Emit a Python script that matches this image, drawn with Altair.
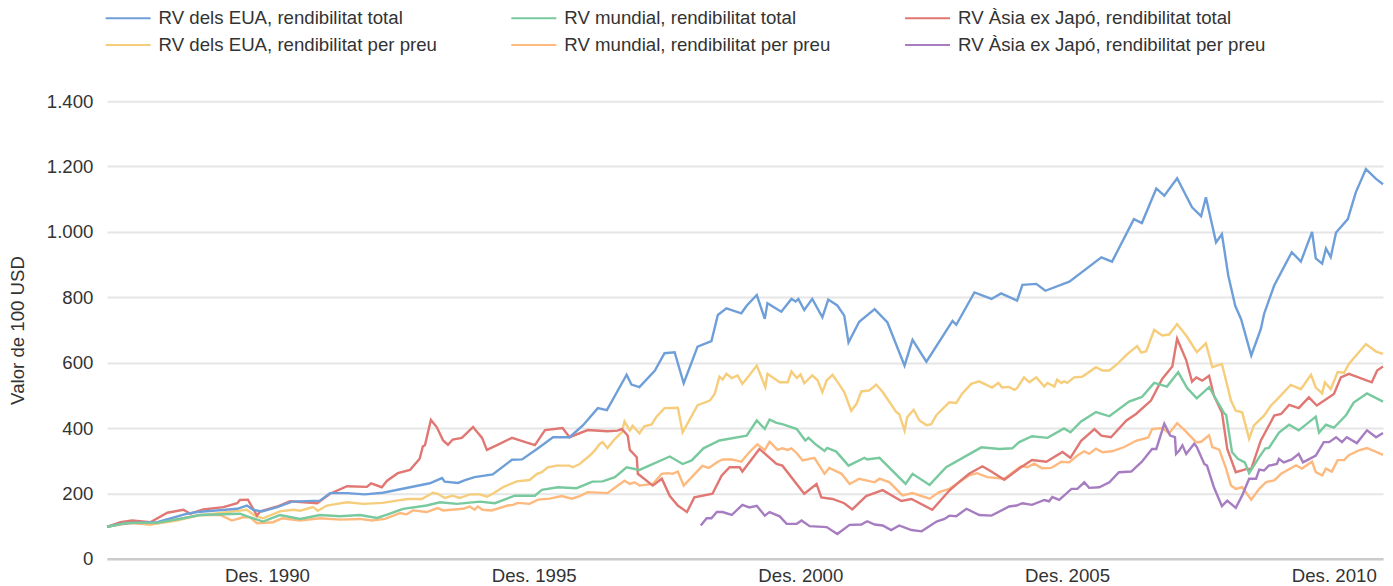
import altair as alt
import pandas as pd

# ---- series names ----
US_TOT = "RV dels EUA, rendibilitat total"
WLD_TOT = "RV mundial, rendibilitat total"
ASIA_TOT = "RV Àsia ex Japó, rendibilitat total"
US_PR = "RV dels EUA, rendibilitat per preu"
WLD_PR = "RV mundial, rendibilitat per preu"
ASIA_PR = "RV Àsia ex Japó, rendibilitat per preu"

ORDER = [US_TOT, WLD_TOT, ASIA_TOT, US_PR, WLD_PR, ASIA_PR]
COLORS = ["#6f9fd8", "#78c99e", "#e07772", "#f6cd7b", "#fdb97e", "#a77dc2"]

# ---- data (decimal year, value of 100 USD) ----
us_tot_t = [1987.92, 1988.17, 1988.41, 1988.86, 1989.42, 1989.61, 1990.36, 1990.54, 1990.66, 1990.82,
            1991.11, 1991.39, 1991.91, 1992.10, 1992.42, 1992.75, 1993.09, 1993.60, 1993.97, 1994.20,
            1994.25, 1994.50, 1994.63, 1994.81, 1995.15, 1995.51, 1995.70, 1995.98, 1996.28, 1996.59,
            1996.84, 1997.12, 1997.29, 1997.66, 1997.75, 1997.90, 1998.19, 1998.37, 1998.56, 1998.73,
            1998.99, 1999.25, 1999.37, 1999.53, 1999.81, 1999.91, 2000.10, 2000.25, 2000.30, 2000.56,
            2000.75, 2000.83, 2000.88, 2000.99, 2001.14, 2001.33, 2001.44, 2001.61, 2001.74, 2001.82,
            2002.02, 2002.31, 2002.55, 2002.87, 2003.02, 2003.28, 2003.77, 2003.84, 2004.18, 2004.50,
            2004.68, 2004.98, 2005.08, 2005.34, 2005.51, 2005.96, 2006.56, 2006.76, 2007.17, 2007.32,
            2007.59, 2007.74, 2007.98, 2008.26, 2008.43, 2008.52, 2008.71, 2008.82, 2008.94, 2009.07,
            2009.18, 2009.37, 2009.55, 2009.61, 2009.80, 2010.13, 2010.30, 2010.51, 2010.58, 2010.70,
            2010.77, 2010.86, 2010.96, 2011.18, 2011.33, 2011.52, 2011.71, 2011.84]
us_tot_v = [98, 107, 110, 112, 138, 143, 153, 163, 150, 145,
            158, 175, 178, 201, 201, 197, 202, 219, 231, 247,
            236, 232, 241, 250, 258, 303, 304, 336, 372, 372,
            408, 461, 455, 563, 533, 525, 576, 629, 632, 537,
            649, 666, 746, 766, 751, 774, 807, 734, 782, 756,
            795, 787, 795, 761, 795, 739, 793, 775, 744, 662,
            725, 764, 723, 591, 670, 603, 728, 716, 815, 795,
            812, 790, 838, 841, 820, 848, 922, 909, 1039, 1027,
            1133, 1111, 1164, 1075, 1048, 1106, 968, 993, 866, 774,
            733, 622, 703, 749, 836, 938, 909, 1000, 919, 903,
            949, 923, 998, 1039, 1121, 1192, 1162, 1146]

us_pr_t = [1987.92, 1988.17, 1988.41, 1988.73, 1989.23, 1989.61, 1990.28, 1990.54, 1990.69, 1990.84,
           1991.16, 1991.41, 1991.54, 1991.78, 1991.87, 1992.04, 1992.23, 1992.42, 1992.72, 1993.09,
           1993.35, 1993.56, 1993.82, 1994.03, 1994.12, 1994.25, 1994.40, 1994.53, 1994.72, 1994.91,
           1995.04, 1995.15, 1995.34, 1995.60, 1995.84, 1995.98, 1996.07, 1996.18, 1996.35, 1996.59,
           1996.65, 1996.78, 1996.97, 1997.06, 1997.16, 1997.21, 1997.30, 1997.44, 1997.57, 1997.62,
           1997.72, 1997.77, 1997.90, 1997.99, 1998.13, 1998.22, 1998.37, 1998.62, 1998.71, 1998.99,
           1999.22, 1999.31, 1999.40, 1999.46, 1999.53, 1999.63, 1999.74, 1999.83, 1999.93, 2000.10,
           2000.26, 2000.30, 2000.53, 2000.68, 2000.75, 2000.85, 2000.92, 2000.99, 2001.14, 2001.24,
           2001.33, 2001.41, 2001.52, 2001.61, 2001.74, 2001.87, 2001.97, 2002.06, 2002.21, 2002.34,
           2002.46, 2002.72, 2002.77, 2002.87, 2002.92, 2003.04, 2003.15, 2003.28, 2003.37, 2003.47,
           2003.71, 2003.84, 2003.95, 2004.12, 2004.27, 2004.51, 2004.63, 2004.70, 2004.83, 2004.93,
           2004.98, 2005.11, 2005.21, 2005.34, 2005.49, 2005.55, 2005.68, 2005.73, 2005.81, 2005.86,
           2005.92, 2006.05, 2006.20, 2006.46, 2006.58, 2006.71, 2006.86, 2007.03, 2007.23, 2007.31,
           2007.40, 2007.55, 2007.70, 2007.83, 2007.98, 2008.15, 2008.35, 2008.52, 2008.64, 2008.82,
           2008.99, 2009.08, 2009.20, 2009.33, 2009.42, 2009.61, 2009.74, 2009.85, 2010.11, 2010.30,
           2010.49, 2010.58, 2010.70, 2010.75, 2010.86, 2010.99, 2011.11, 2011.20, 2011.52, 2011.71,
           2011.84]
us_pr_v = [98, 105, 110, 105, 117, 132, 145, 150, 132, 124,
           145, 150, 147, 158, 147, 163, 168, 173, 168, 171,
           178, 183, 183, 202, 199, 186, 193, 186, 197, 197,
           190, 199, 219, 237, 241, 260, 265, 280, 285, 285,
           280, 290, 316, 331, 352, 357, 339, 367, 387, 420,
           392, 407, 384, 405, 411, 435, 461, 462, 387, 470,
           484, 504, 557, 548, 566, 553, 561, 535, 555, 591,
           525, 566, 540, 540, 573, 553, 564, 537, 561, 546,
           510, 546, 563, 542, 510, 453, 474, 512, 515, 533,
           510, 448, 443, 392, 433, 456, 423, 409, 412, 440,
           479, 477, 505, 535, 543, 524, 538, 524, 526, 517,
           522, 555, 540, 555, 527, 538, 527, 548, 538, 543,
           538, 555, 557, 586, 576, 576, 596, 624, 651, 631,
           635, 700, 683, 686, 718, 683, 632, 659, 586, 596,
           484, 453, 448, 367, 408, 438, 469, 487, 532, 519,
           563, 524, 506, 540, 519, 571, 569, 596, 657, 634,
           627]

asia_tot_t = [1987.92, 1988.17, 1988.39, 1988.73, 1989.05, 1989.35, 1989.48, 1989.72, 1990.10, 1990.36,
              1990.41, 1990.56, 1990.73, 1990.79, 1991.11, 1991.35, 1991.86, 1992.10, 1992.42, 1992.79,
              1992.87, 1993.07, 1993.17, 1993.37, 1993.60, 1993.78, 1993.84, 1993.88, 1993.99, 1994.10,
              1994.22, 1994.31, 1994.40, 1994.57, 1994.78, 1994.95, 1995.04, 1995.23, 1995.51, 1995.94,
              1996.13, 1996.46, 1996.59, 1996.93, 1997.30, 1997.49, 1997.57, 1997.68, 1997.72, 1997.85,
              1997.87, 1998.15, 1998.32, 1998.47, 1998.62, 1998.79, 1998.93, 1999.27, 1999.44, 1999.59,
              1999.78, 1999.83, 2000.15, 2000.47, 2000.58, 2000.99, 2001.22, 2001.31, 2001.52, 2001.74,
              2001.89, 2002.15, 2002.46, 2002.81, 2003.00, 2003.39, 2003.71, 2003.90, 2004.08, 2004.33,
              2004.52, 2004.74, 2005.02, 2005.26, 2005.53, 2005.83, 2005.98, 2006.18, 2006.43, 2006.56,
              2006.74, 2007.03, 2007.21, 2007.49, 2007.70, 2007.89, 2007.98, 2008.15, 2008.26, 2008.34,
              2008.45, 2008.58, 2008.67, 2008.82, 2008.92, 2009.08, 2009.29, 2009.37, 2009.55, 2009.80,
              2009.93, 2010.08, 2010.26, 2010.45, 2010.60, 2010.92, 2011.05, 2011.20, 2011.63, 2011.73,
              2011.84]
asia_tot_v = [98, 112, 117, 112, 141, 150, 138, 151, 158, 170,
              180, 181, 132, 145, 160, 176, 170, 199, 222, 220,
              231, 219, 239, 262, 272, 306, 344, 348, 425, 403,
              362, 349, 365, 370, 403, 370, 333, 348, 370, 348,
              394, 400, 372, 394, 390, 392, 397, 377, 333, 311,
              260, 224, 245, 192, 163, 143, 188, 199, 254, 280,
              280, 267, 336, 290, 285, 199, 229, 188, 183, 170,
              151, 192, 210, 177, 183, 150, 209, 236, 260, 283,
              265, 242, 276, 302, 297, 327, 309, 361, 397, 377,
              372, 423, 443, 484, 550, 588, 673, 608, 542, 555,
              545, 560, 499, 448, 336, 265, 275, 275, 362, 438,
              443, 471, 461, 494, 469, 504, 555, 566, 540, 576,
              588]

wld_tot_t = [1987.92, 1988.30, 1988.86, 1989.35, 1989.66, 1990.41, 1990.60, 1990.84, 1991.16, 1991.54,
             1991.91, 1992.29, 1992.66, 1992.98, 1993.17, 1993.47, 1993.91, 1994.16, 1994.48, 1994.91,
             1995.19, 1995.56, 1995.94, 1996.07, 1996.37, 1996.72, 1997.02, 1997.21, 1997.44, 1997.66,
             1997.90, 1998.47, 1998.71, 1998.88, 1999.10, 1999.40, 1999.91, 2000.10, 2000.25, 2000.34,
             2000.47, 2000.58, 2000.85, 2001.01, 2001.07, 2001.22, 2001.37, 2001.42, 2001.59, 2001.82,
             2002.12, 2002.17, 2002.40, 2002.89, 2003.02, 2003.34, 2003.65, 2004.31, 2004.65, 2004.89,
             2005.02, 2005.26, 2005.55, 2005.86, 2005.98, 2006.18, 2006.46, 2006.71, 2007.08, 2007.32,
             2007.55, 2007.79, 2008.00, 2008.17, 2008.35, 2008.58, 2008.86, 2008.90, 2009.01, 2009.12,
             2009.25, 2009.33, 2009.52, 2009.63, 2009.70, 2009.89, 2010.08, 2010.26, 2010.58, 2010.64,
             2010.77, 2010.92, 2011.15, 2011.29, 2011.54, 2011.84]
wld_tot_v = [98, 110, 110, 124, 134, 138, 127, 114, 134, 122,
             134, 130, 134, 125, 135, 153, 163, 173, 168, 175,
             170, 193, 193, 211, 219, 216, 236, 237, 250, 280,
             272, 313, 290, 301, 338, 362, 377, 423, 397, 426,
             416, 412, 397, 362, 370, 348, 330, 339, 328, 285,
             309, 304, 309, 229, 260, 226, 280, 341, 336, 338,
             357, 375, 370, 399, 387, 420, 449, 436, 481, 495,
             538, 527, 571, 522, 491, 525, 446, 440, 326, 306,
             295, 262, 311, 337, 339, 386, 410, 393, 435, 386,
             410, 401, 440, 478, 506, 481]

wld_pr_t = [1987.92, 1988.30, 1988.73, 1989.35, 1989.66, 1990.04, 1990.26, 1990.47, 1990.60, 1990.73,
            1991.03, 1991.20, 1991.54, 1991.91, 1992.29, 1992.66, 1992.89, 1993.13, 1993.41, 1993.54,
            1993.65, 1993.91, 1994.12, 1994.22, 1994.59, 1994.72, 1994.81, 1994.87, 1994.96, 1995.13,
            1995.43, 1995.53, 1995.62, 1995.84, 1996.00, 1996.22, 1996.44, 1996.63, 1996.78, 1996.93,
            1997.30, 1997.62, 1997.72, 1997.81, 1997.90, 1998.15, 1998.32, 1998.43, 1998.52, 1998.62,
            1998.73, 1999.08, 1999.20, 1999.37, 1999.46, 1999.63, 1999.81, 1999.96, 2000.11, 2000.25,
            2000.34, 2000.49, 2000.58, 2000.68, 2000.75, 2000.85, 2000.96, 2001.18, 2001.37, 2001.46,
            2001.69, 2001.84, 2002.02, 2002.31, 2002.40, 2002.59, 2002.83, 2003.02, 2003.34, 2003.52,
            2003.71, 2003.90, 2004.08, 2004.23, 2004.42, 2004.74, 2005.06, 2005.17, 2005.30, 2005.45,
            2005.62, 2005.81, 2005.96, 2006.11, 2006.24, 2006.33, 2006.46, 2006.58, 2006.76, 2006.99,
            2007.21, 2007.44, 2007.51, 2007.70, 2007.83, 2007.98, 2008.11, 2008.34, 2008.43, 2008.58,
            2008.64, 2008.77, 2008.90, 2008.99, 2009.08, 2009.20, 2009.37, 2009.52, 2009.65, 2009.80,
            2009.93, 2010.21, 2010.32, 2010.51, 2010.58, 2010.70, 2010.77, 2010.88, 2010.99, 2011.11,
            2011.20, 2011.39, 2011.54, 2011.84]
wld_pr_v = [98, 110, 105, 124, 134, 134, 117, 127, 127, 109,
            112, 124, 117, 124, 120, 122, 117, 122, 140, 136,
            148, 143, 155, 148, 153, 160, 150, 160, 150, 148,
            163, 165, 171, 168, 181, 184, 192, 184, 192, 204,
            201, 239, 229, 234, 224, 229, 260, 262, 260, 267,
            224, 284, 278, 297, 304, 304, 297, 326, 350, 333,
            358, 333, 338, 333, 338, 323, 301, 309, 260, 278,
            260, 229, 245, 234, 245, 234, 194, 201, 184, 204,
            214, 235, 255, 262, 250, 245, 284, 280, 291, 277,
            278, 297, 295, 316, 329, 321, 337, 326, 329, 342,
            361, 371, 397, 400, 384, 415, 395, 356, 358, 378,
            342, 334, 275, 224, 214, 219, 181, 214, 235, 240,
            260, 286, 276, 297, 265, 255, 276, 267, 302, 302,
            317, 332, 339, 318]

asia_pr_t = [1999.05, 1999.16, 1999.25, 1999.35, 1999.46, 1999.63, 1999.83, 1999.96, 2000.10, 2000.25,
             2000.34, 2000.53, 2000.66, 2000.85, 2000.94, 2001.09, 2001.41, 2001.61, 2001.84, 2002.06,
             2002.17, 2002.31, 2002.46, 2002.62, 2002.77, 2003.00, 2003.19, 2003.47, 2003.62, 2003.71,
             2003.84, 2004.03, 2004.27, 2004.50, 2004.83, 2004.97, 2005.08, 2005.26, 2005.49, 2005.58,
             2005.64, 2005.77, 2006.00, 2006.11, 2006.24, 2006.33, 2006.52, 2006.71, 2006.89, 2007.12,
             2007.32, 2007.51, 2007.59, 2007.74, 2007.85, 2007.94, 2007.96, 2008.02, 2008.08, 2008.15,
             2008.30, 2008.35, 2008.49, 2008.54, 2008.67, 2008.82, 2008.92, 2009.08, 2009.20, 2009.33,
             2009.46, 2009.52, 2009.61, 2009.70, 2009.85, 2009.89, 2009.98, 2010.13, 2010.26, 2010.34,
             2010.58, 2010.73, 2010.83, 2010.96, 2011.07, 2011.16, 2011.35, 2011.54, 2011.71, 2011.84]
asia_pr_v = [102, 124, 124, 143, 143, 134, 165, 157, 162, 132,
             143, 130, 107, 107, 117, 100, 97, 76, 104, 105,
             115, 105, 102, 88, 102, 88, 84, 114, 122, 132,
             130, 153, 134, 132, 160, 163, 170, 165, 180, 176,
             189, 180, 214, 214, 234, 217, 219, 234, 265, 267,
             297, 336, 336, 413, 377, 372, 321, 331, 347, 321,
             352, 342, 290, 285, 219, 161, 178, 156, 194, 245,
             245, 273, 270, 285, 290, 306, 295, 304, 321, 295,
             316, 357, 357, 372, 357, 372, 354, 393, 372, 385]

# draw order (later = on top)
SERIES = [
    (US_PR, us_pr_t, us_pr_v),
    (WLD_PR, wld_pr_t, wld_pr_v),
    (ASIA_PR, asia_pr_t, asia_pr_v),
    (ASIA_TOT, asia_tot_t, asia_tot_v),
    (US_TOT, us_tot_t, us_tot_v),
    (WLD_TOT, wld_tot_t, wld_tot_v),
]

rows = []
for k, (name, ts, vs) in enumerate(SERIES):
    for t, v in zip(ts, vs):
        rows.append({"serie": name, "any": t, "valor": v, "z": k})
df = pd.DataFrame(rows)

X_TICKS = [1990.917, 1995.917, 2000.917, 2005.917, 2010.917]
Y_TICKS = [0, 200, 400, 600, 800, 1000, 1200, 1400]

FONT = "Liberation Sans"
FS = 18.67
TXT = "#333333"

chart = alt.Chart(df).mark_line(strokeWidth=2.4, interpolate="linear").encode(
    x=alt.X("any:Q",
            scale=alt.Scale(domain=[1987.917, 2011.84], nice=False, zero=False),
            axis=alt.Axis(values=X_TICKS, labelExpr="'Des. ' + floor(datum.value)",
                          title=None, grid=False, ticks=False, domain=True,
                          domainColor="#cccccc", domainWidth=2.5,
                          labelFont=FONT, labelFontSize=FS, labelColor=TXT,
                          labelPadding=8, labelFlush=False, labelOverlap=False)),
    y=alt.Y("valor:Q",
            scale=alt.Scale(domain=[0, 1400], nice=False),
            axis=alt.Axis(values=Y_TICKS,
                          labelExpr="replace(format(datum.value, ','), ',', '.')",
                          title="Valor de 100 USD", titleFont=FONT, titleFontSize=FS,
                          titleFontWeight="normal", titleColor=TXT, titleAngle=270,
                          titleX=-89, titleY=229, titleAlign="center", titleBaseline="middle",
                          grid=True, gridColor="#e6e6e6", gridWidth=2,
                          ticks=False, domain=False,
                          labelFont=FONT, labelFontSize=FS, labelColor=TXT,
                          labelPadding=14)),
    color=alt.Color("serie:N",
                    scale=alt.Scale(domain=ORDER, range=COLORS),
                    legend=alt.Legend(orient="none", legendX=-2.3, legendY=-95,
                                      direction="horizontal", columns=3, title=None,
                                      symbolType="stroke", symbolSize=2025, symbolStrokeWidth=2,
                                      clipHeight=24, rowPadding=2.7, columnPadding=73,
                                      labelOffset=7, labelFont=FONT, labelFontSize=FS,
                                      labelColor=TXT, labelLimit=500, padding=0,
                                      gridAlign="each")),
    order=alt.Order("z:Q"),
    detail="serie:N",
).properties(
    width=1277,
    height=458,
    autosize=alt.AutoSizeParams(type="none"),
    padding={"left": 99, "top": 93, "right": 2, "bottom": 32},
).configure_view(stroke=None)

chart.save("out.html", embed_options={"renderer": "svg", "actions": False})
